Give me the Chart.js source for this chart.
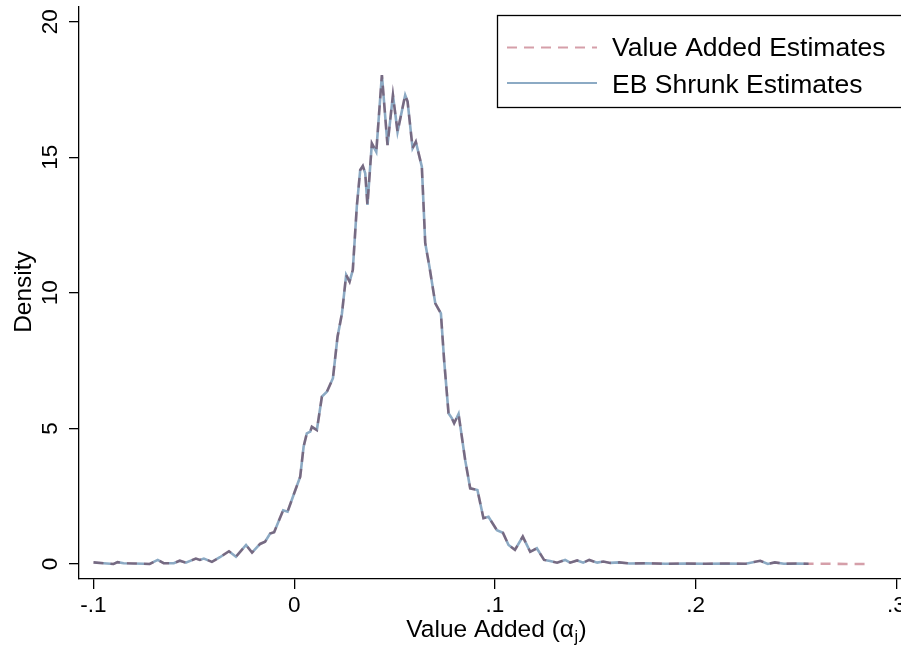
<!DOCTYPE html>
<html>
<head>
<meta charset="utf-8">
<script src="https://cdn.jsdelivr.net/npm/chart.js@4.4.1/dist/chart.umd.min.js"></script>
<style>
  html, body { margin: 0; padding: 0; background: #fff; }
  #wrap { width: 901px; height: 646px; }
</style>
</head>
<body>
<div id="wrap"><canvas id="densityChart" width="901" height="646"></canvas></div>
<script>
// kernel density
const gridX = [
  -0.100, -0.095, -0.090, -0.088, -0.085, -0.080, -0.075, -0.072, -0.068, -0.065,
  -0.060, -0.057, -0.054, -0.049, -0.047, -0.045, -0.041, -0.037, -0.0325, -0.029,
  -0.024, -0.021, -0.017, -0.0145, -0.012, -0.010, -0.0055, -0.0033, 0.000, 0.003,
  0.0047, 0.0063, 0.008, 0.0088, 0.0113, 0.0138, 0.0163, 0.0193, 0.0216, 0.0238,
  0.0259, 0.0276, 0.0292, 0.0312, 0.0329, 0.0342, 0.0354, 0.0365, 0.0387, 0.0409,
  0.0437, 0.0465, 0.0492, 0.0515, 0.0553, 0.0565, 0.059, 0.0606, 0.0636, 0.0653,
  0.0674, 0.0703, 0.0731, 0.0747, 0.0769, 0.0786, 0.0797, 0.0819, 0.0852, 0.0877,
  0.0913, 0.0943, 0.0968, 0.101, 0.104, 0.1068, 0.110, 0.1139, 0.1176, 0.1209,
  0.1245, 0.1275, 0.131, 0.135, 0.1375, 0.141, 0.144, 0.147, 0.151, 0.154,
  0.1575, 0.162, 0.167, 0.175, 0.185, 0.195, 0.205, 0.215, 0.225, 0.2322,
  0.236, 0.2395, 0.244, 0.250, 0.2563, 0.265, 0.275, 0.2862
];
const vaDensity = [
  0.06, 0.03, 0.00, 0.07, 0.03, 0.02, 0.01, 0.00, 0.15, 0.03,
  0.03, 0.12, 0.05, 0.20, 0.15, 0.20, 0.08, 0.25, 0.47, 0.27,
  0.70, 0.42, 0.74, 0.82, 1.12, 1.17, 1.98, 1.93, 2.61, 3.22,
  4.33, 4.82, 4.88, 5.06, 4.94, 6.17, 6.35, 6.85, 8.38, 9.24,
  10.66, 10.41, 10.84, 13.18, 14.53, 14.68, 14.41, 13.24, 15.51, 15.20,
  18.03, 15.45, 17.29, 15.94, 17.29, 17.05, 15.33, 15.57, 14.65, 11.83,
  10.96, 9.61, 9.24, 7.52, 5.56, 5.37, 5.19, 5.53, 3.83, 2.79,
  2.73, 1.69, 1.74, 1.25, 1.15, 0.70, 0.52, 1.01, 0.45, 0.58,
  0.15, 0.11, 0.05, 0.15, 0.05, 0.13, 0.05, 0.15, 0.05, 0.09,
  0.04, 0.06, 0.02, 0.03, 0.01, 0.02, 0.01, 0.02, 0.01, 0.12,
  0.00, 0.06, 0.01, 0.02, 0.01, 0.01, 0.00, 0.00
];
const ebDensity = [
  0.06, 0.03, 0.00, 0.07, 0.03, 0.02, 0.01, 0.00, 0.15, 0.03,
  0.03, 0.12, 0.05, 0.20, 0.15, 0.20, 0.08, 0.25, 0.47, 0.27,
  0.70, 0.42, 0.74, 0.82, 1.12, 1.17, 1.98, 1.93, 2.61, 3.22,
  4.33, 4.82, 4.88, 5.06, 4.94, 6.17, 6.35, 6.85, 8.38, 9.24,
  10.66, 10.41, 10.84, 13.18, 14.53, 14.68, 14.41, 13.24, 15.51, 15.20,
  18.03, 15.45, 17.29, 15.94, 17.29, 17.05, 15.33, 15.57, 14.65, 11.83,
  10.96, 9.61, 9.24, 7.52, 5.56, 5.37, 5.19, 5.53, 3.83, 2.79,
  2.73, 1.69, 1.74, 1.25, 1.15, 0.70, 0.52, 1.01, 0.45, 0.58,
  0.15, 0.11, 0.05, 0.15, 0.05, 0.13, 0.05, 0.15, 0.05, 0.09,
  0.04, 0.06, 0.02, 0.03, 0.01, 0.02, 0.01, 0.02, 0.01, 0.12,
  0.00, 0.06, 0.01, 0.02, 0.01
];
const xTicks = [-0.1, 0, 0.1, 0.2, 0.3];
const xTickLabels = ['-.1', '0', '.1', '.2', '.3'];
const yTicks = [0, 5, 10, 15, 20];
const yTickLabels = ['0', '5', '10', '15', '20'];
const seriesNames = ['Value Added Estimates', 'EB Shrunk Estimates'];

const FONT = 'Liberation Sans, Arial, Helvetica, sans-serif';
Chart.defaults.font.family = FONT;
Chart.defaults.color = '#000';

// dashed line multiplies over the solid one, like the overlap in the original
const overlapBlend = {
    id: 'overlapBlend',
    beforeDatasetDraw(chart, args) {
        if (args.index === 0) {
            chart.ctx.save();
            chart.ctx.globalCompositeOperation = 'multiply';
        }
    },
    afterDatasetDraw(chart, args) {
        if (args.index === 0) chart.ctx.restore();
    }
};

// y tick labels, axis titles and boxed legend (Stata look)
const stataDecor = {
    id: 'stataDecor',
    afterDraw(chart) {
        const ctx = chart.ctx;
        const y = chart.scales.y;
        const area = chart.chartArea;
        ctx.save();
        ctx.fillStyle = '#000';

        // rotated y tick labels
        ctx.font = '22.5px ' + FONT;
        ctx.textAlign = 'center';
        ctx.textBaseline = 'alphabetic';
        yTicks.forEach((v, i) => {
            ctx.save();
            ctx.translate(57, y.getPixelForValue(v));
            ctx.rotate(-Math.PI / 2);
            ctx.fillText(yTickLabels[i], 0, 0);
            ctx.restore();
        });

        // y title
        ctx.font = '24.5px ' + FONT;
        ctx.save();
        ctx.translate(30.5, 292);
        ctx.rotate(-Math.PI / 2);
        ctx.fillText('Density', 0, 0);
        ctx.restore();

        // x title with subscript j
        const main = 'Value Added (\u03b1';
        ctx.font = '24.5px ' + FONT;
        const w1 = ctx.measureText(main).width;
        const w3 = ctx.measureText(')').width;
        ctx.font = '16px ' + FONT;
        const w2 = ctx.measureText('j').width;
        const tx = 496 - (w1 + w2 + w3) / 2;
        const base = 637;
        ctx.textAlign = 'left';
        ctx.font = '24.5px ' + FONT;
        ctx.fillText(main, tx, base);
        ctx.font = '16px ' + FONT;
        ctx.fillText('j', tx + w1 + 0.5, base + 5);
        ctx.font = '24.5px ' + FONT;
        ctx.fillText(')', tx + w1 + w2 + 1, base);

        // legend box
        ctx.strokeStyle = '#000';
        ctx.lineWidth = 1.3;
        ctx.strokeRect(497.5, 15.5, 430, 92);
        const rows = [47.5, 83];
        const bases = [56, 92.5];
        chart.data.datasets.forEach((ds, i) => {
            ctx.save();
            ctx.strokeStyle = ds.borderColor;
            ctx.lineWidth = 2;
            ctx.setLineDash(ds.borderDash || []);
            ctx.beginPath();
            ctx.moveTo(507, rows[i]);
            ctx.lineTo(597, rows[i]);
            ctx.stroke();
            ctx.restore();
            ctx.font = '26.5px ' + FONT;
            ctx.textAlign = 'left';
            ctx.fillText(ds.label, 612, bases[i]);
        });
        ctx.restore();
    }
};

new Chart(document.getElementById('densityChart').getContext('2d'), {
    type: 'line',
    data: {
        datasets: [{
            label: seriesNames[0],
            data: gridX.map((x, i) => ({ x: x, y: vaDensity[i] })),
            borderColor: '#d59fa9',
            borderWidth: 2.6,
            borderDash: [10, 7],
            pointRadius: 0,
            tension: 0,
            fill: false
        }, {
            label: seriesNames[1],
            data: ebDensity.map((v, i) => ({ x: gridX[i], y: v })),
            borderColor: '#8caac4',
            borderWidth: 2.6,
            pointRadius: 0,
            tension: 0,
            fill: false
        }]
    },
    options: {
        responsive: false,
        animation: false,
        layout: { padding: { top: 7, left: 0, right: 0, bottom: 0 } },
        plugins: { legend: { display: false }, tooltip: { enabled: false } },
        scales: {
            x: {
                type: 'linear',
                min: -0.10722,
                max: 0.30235,
                afterBuildTicks: s => { s.ticks = xTicks.map(v => ({ value: v })); },
                afterFit: s => { s.height = 67; s.paddingLeft = 0; s.paddingRight = 0; },
                grid: { display: true, drawOnChartArea: false, drawTicks: true, tickLength: 10, color: '#000', lineWidth: 1.3 },
                border: { display: true, color: '#000', width: 1.3 },
                ticks: {
                    font: { size: 22.5 },
                    color: '#000',
                    padding: 3,
                    maxRotation: 0,
                    autoSkip: false,
                    callback: (v, i) => xTickLabels[i]
                }
            },
            y: {
                min: -0.553,
                max: 20.54,
                afterBuildTicks: s => { s.ticks = yTicks.map(v => ({ value: v })); },
                afterFit: s => { s.width = 79; s.paddingTop = 0; s.paddingBottom = 0; },
                grid: { display: true, drawOnChartArea: false, drawTicks: true, tickLength: 10, color: '#000', lineWidth: 1.3 },
                border: { display: true, color: '#000', width: 1.3 },
                ticks: { display: false }
            }
        }
    },
    plugins: [overlapBlend, stataDecor]
});
</script>
</body>
</html>
